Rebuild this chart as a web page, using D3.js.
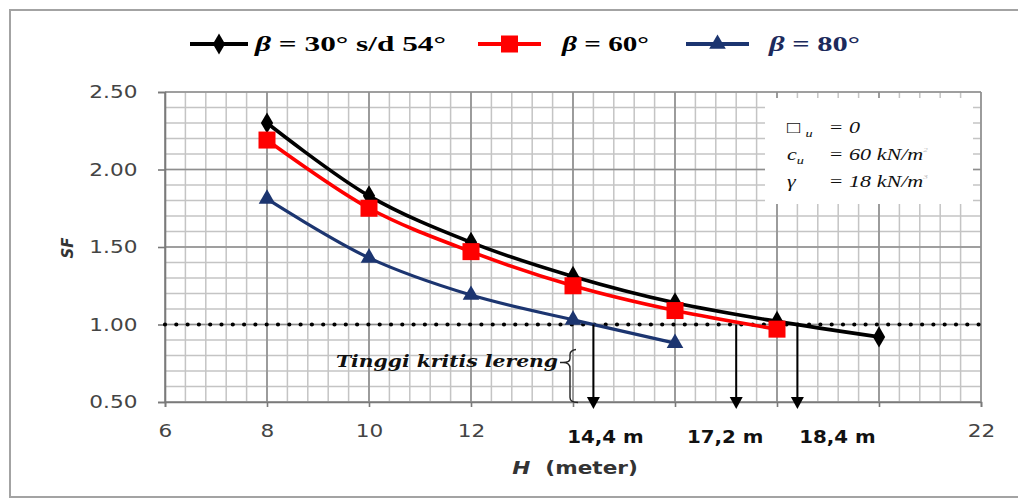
<!DOCTYPE html>
<html>
<head>
<meta charset="utf-8">
<script src="https://cdn.jsdelivr.net/npm/d3@7"></script>
<style>
  body { margin: 0; background: #fff; }
</style>
</head>
<body>
<div id="chart"></div>
<script>
// data
const hBlack = [8, 10, 12, 14, 16, 18, 20];
const sfBlack = [2.30, 1.83, 1.53, 1.31, 1.14, 1.02, 0.92];
const hRed = [8, 10, 12, 14, 16, 18];
const sfRed = [2.19, 1.75, 1.47, 1.25, 1.09, 0.97];
const hBlue = [8, 10, 12, 14, 16];
const sfBlue = [1.81, 1.43, 1.19, 1.03, 0.88];

const xTicks = [6, 8, 10, 12, 14, 16, 18, 20, 22];
const xTickLabels = ["6", "8", "10", "12", "", "", "", "", "22"];
const yTicks = [0.5, 1.0, 1.5, 2.0, 2.5];
const yTickLabels = ["0.50", "1.00", "1.50", "2.00", "2.50"];

const sfLimit = 1.0;
const critH = [14.4, 17.2, 18.4];
const critLabels = ["14,4 m", "17,2 m", "18,4 m"];
const legendLabels = ["30° s/d 54°", "60°", "80°"];
const boxLines = [
  { sym: "□", sub: "u", val: "= 0", sup: "" },
  { sym: "c", sub: "u", val: "= 60 kN/m", sup: "2" },
  { sym: "γ", sub: "", val: "= 18 kN/m", sup: "3" }
];

const W = 1018, H = 502;
const margin = { top: 92, left: 165, right: 37, bottom: 100 };
const width = W - margin.left - margin.right;
const height = H - margin.top - margin.bottom;

const svg = d3.select("#chart").append("svg")
  .attr("width", W).attr("height", H);

// outer frame
svg.append("rect").attr("x", 10).attr("y", 10).attr("width", 1020).attr("height", 487)
  .attr("fill", "#fff").attr("stroke", "#a3a3a3").attr("stroke-width", 2);

const g = svg.append("g").attr("transform", `translate(${margin.left},${margin.top})`);

const x = d3.scaleLinear().domain([6, 22]).range([0, width]);
const y = d3.scaleLinear().domain([0.5, 2.5]).range([height, 0]);

// grid: minor then major
const vMinor = d3.range(0, 41).map(i => 6 + i * 0.4);
const hMinor = d3.range(0, 21).map(i => 0.5 + i * 0.1);
g.append("g").selectAll("line").data(vMinor).join("line")
  .attr("x1", d => x(d)).attr("x2", d => x(d)).attr("y1", 0).attr("y2", height)
  .attr("stroke", "#c4c4c4").attr("stroke-width", 1.5);
g.append("g").selectAll("line").data(hMinor).join("line")
  .attr("x1", 0).attr("x2", width).attr("y1", d => y(d)).attr("y2", d => y(d))
  .attr("stroke", "#c4c4c4").attr("stroke-width", 1.5);
g.append("g").selectAll("line").data(xTicks).join("line")
  .attr("x1", d => x(d)).attr("x2", d => x(d)).attr("y1", 0).attr("y2", height)
  .attr("stroke", "#8e8e8e").attr("stroke-width", 1.6);
g.append("g").selectAll("line").data(yTicks).join("line")
  .attr("x1", 0).attr("x2", width).attr("y1", d => y(d)).attr("y2", d => y(d))
  .attr("stroke", "#8e8e8e").attr("stroke-width", 1.6);

// axes
const yAxis = g.append("g")
  .call(d3.axisLeft(y).tickValues(yTicks).tickFormat((d, i) => yTickLabels[i]).tickSize(7).tickPadding(16));
const xAxis = g.append("g").attr("transform", `translate(0,${height})`)
  .call(d3.axisBottom(x).tickValues(xTicks).tickFormat((d, i) => xTickLabels[i]).tickSize(5).tickPadding(17));
[yAxis, xAxis].forEach(a => {
  a.attr("font-size", 18).attr("font-family", "DejaVu Sans");
  a.select(".domain").attr("stroke", "#7a7a7a").attr("stroke-width", 1.6);
  a.selectAll(".tick line").attr("stroke", "#7a7a7a").attr("stroke-width", 1.6);
  a.selectAll(".tick text").attr("fill", "#444").attr("transform", "scale(1.2,1)");
});

// annotation box
const box = g.append("g").attr("transform", `translate(${x(18.0) - 12},${6})`);
box.append("rect").attr("width", 208).attr("height", 106).attr("fill", "#fff");
boxLines.forEach((l, i) => {
  const row = box.append("g").attr("transform", `translate(22,${35 + i * 27}) scale(1.3,1)`);
  const t = row.append("text").attr("font-family", "Liberation Serif").attr("font-style", "italic")
    .attr("font-size", 17).attr("fill", "#111");
  t.append("tspan").text(l.sym);
  if (l.sub) t.append("tspan").attr("font-size", 11).attr("dy", 4).attr("dx", i === 0 ? 4 : 0).text(l.sub);
  row.append("text").attr("x", 32).attr("font-family", "Liberation Serif").attr("font-style", "italic")
    .attr("font-size", 17).attr("fill", "#111").text(l.val)
    .append("tspan").attr("dy", -8).attr("font-size", 7).attr("fill", "#bbb").text(l.sup);
});

// dotted SF = 1 line
g.append("line").attr("x1", 0).attr("x2", width).attr("y1", y(sfLimit)).attr("y2", y(sfLimit))
  .attr("stroke", "#000").attr("stroke-width", 4.2).attr("stroke-linecap", "round")
  .attr("stroke-dasharray", "0 11.3");

// series
const line = d3.line().x(d => x(d[0])).y(d => y(d[1])).curve(d3.curveCatmullRom.alpha(0.5));
const series = [
  { h: hBlue, sf: sfBlue, color: "#1c3570", w: 3.2, marker: "tri" },
  { h: hRed, sf: sfRed, color: "#ff0000", w: 3.6, marker: "sq" },
  { h: hBlack, sf: sfBlack, color: "#000", w: 3.6, marker: "dia" }
];
function marker(sel, type, color) {
  if (type === "sq") {
    sel.append("rect").attr("x", -8.5).attr("y", -8.5).attr("width", 17).attr("height", 17).attr("fill", color);
  } else {
    const s = type === "tri" ? d3.symbolTriangle : d3.symbolDiamond;
    sel.append("path").attr("d", d3.symbol().type(s).size(type === "tri" ? 120 : 130)()).attr("fill", color);
  }
}
series.forEach(s => {
  const pts = s.h.map((h, i) => [h, s.sf[i]]);
  g.append("path").datum(pts).attr("d", line).attr("fill", "none")
    .attr("stroke", s.color).attr("stroke-width", s.w).attr("stroke-linejoin", "round");
});
[series[2], series[1], series[0]].forEach(s => {
  s.h.forEach((h, i) => {
    const m = g.append("g").attr("transform", `translate(${x(h)},${y(s.sf[i])})`);
    marker(m, s.marker, s.color);
  });
});

// critical height arrows
const labelShift = [12, -11, 40];
critH.forEach((h, i) => {
  const cx = x(h);
  g.append("line").attr("x1", cx).attr("x2", cx).attr("y1", y(sfLimit)).attr("y2", height - 4)
    .attr("stroke", "#000").attr("stroke-width", 2);
  g.append("path").attr("d", `M${cx - 6.5},${height - 5}L${cx + 6.5},${height - 5}L${cx},${height + 7}Z`).attr("fill", "#000");
  g.append("g").attr("transform", `translate(${cx + labelShift[i]},${height + 41}) scale(1.1,1)`)
    .append("text").attr("text-anchor", "middle").attr("font-family", "DejaVu Sans").attr("font-weight", "bold")
    .attr("font-size", 18).attr("fill", "#111").text(critLabels[i]);
});

// "Tinggi kritis lereng" + brace
const bx = x(14) - 3, by = y(sfLimit);
g.append("text").attr("x", bx - 12).attr("y", by + 42).attr("text-anchor", "end")
  .attr("font-family", "DejaVu Serif").attr("font-style", "italic").attr("font-weight", "bold")
  .attr("font-size", 16).attr("textLength", 222).attr("lengthAdjust", "spacingAndGlyphs")
  .attr("fill", "#111").text("Tinggi kritis lereng");
g.append("path")
  .attr("d", `M${bx - 10},${by + 38}L${bx - 7},${by + 38}Q${bx},${by + 38} ${bx},${by + 34}L${bx},${by + 30}Q${bx},${by + 26} ${bx + 6},${by + 25}M${bx - 7},${by + 38}Q${bx},${by + 38} ${bx},${by + 44}L${bx},${by + 73}Q${bx},${by + 78} ${bx + 8},${by + 78}`)
  .attr("fill", "none").attr("stroke", "#222").attr("stroke-width", 1.4);

// axis titles
svg.append("text").attr("transform", "translate(73,248) rotate(-90)").attr("text-anchor", "middle")
  .attr("font-family", "DejaVu Sans").attr("font-weight", "bold").attr("font-style", "italic")
  .attr("font-size", 15).attr("fill", "#333").text("SF");
const xt = svg.append("g").attr("transform", "translate(575,474) scale(1.2,1)")
  .append("text").attr("text-anchor", "middle").attr("font-family", "DejaVu Sans")
  .attr("font-weight", "bold").attr("font-size", 18).attr("fill", "#333");
xt.append("tspan").attr("font-style", "italic").text("H");
xt.append("tspan").text("\u00a0\u00a0(meter)");

// legend
const legend = svg.append("g").attr("transform", "translate(0,44)");
const legItems = [
  { x0: 190, x1: 248, color: "#000", marker: "dia", tx: 255, tw: 191, fill: "#000" },
  { x0: 478, x1: 541, color: "#ff0000", marker: "sq", tx: 562, tw: 87, fill: "#000" },
  { x0: 686, x1: 749, color: "#1c3570", marker: "tri", tx: 769, tw: 91, fill: "#1c2a5c" }
];
legItems.forEach((it, i) => {
  legend.append("line").attr("x1", it.x0).attr("x2", it.x1).attr("stroke", it.color).attr("stroke-width", 4);
  marker(legend.append("g").attr("transform", `translate(${(it.x0 + it.x1) / 2},0)`), it.marker, it.color);
  const t = legend.append("text").attr("x", it.tx).attr("y", 7).attr("font-family", "Liberation Serif")
    .attr("font-weight", "bold").attr("font-size", 22).attr("fill", it.fill)
    .attr("textLength", it.tw).attr("lengthAdjust", "spacingAndGlyphs");
  t.append("tspan").attr("font-style", "italic").text("β");
  t.append("tspan").text(" = " + legendLabels[i]);
});
</script>
</body>
</html>
